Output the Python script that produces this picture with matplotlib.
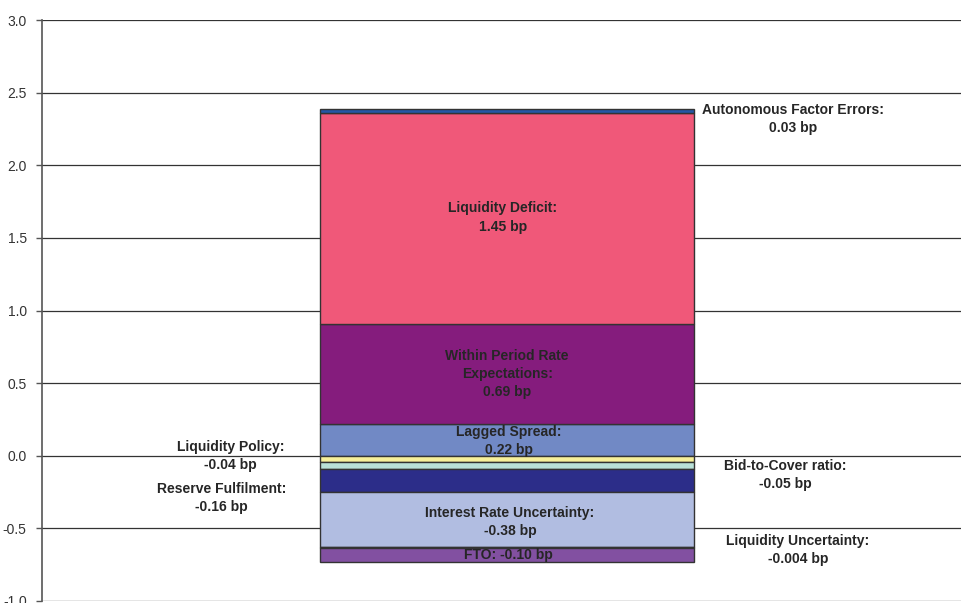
import matplotlib.pyplot as plt
import numpy as np

plt.rcParams["font.family"] = ["Liberation Sans", "DejaVu Sans"]

# contributions in bp, stacked in drawing order
pos_names = ["Lagged Spread", "Within Period Rate Expectations", "Liquidity Deficit",
             "Autonomous Factor Errors"]
pos_values = [0.22, 0.69, 1.45, 0.03]
pos_colors = ["#7189c5", "#851c7d", "#f05879", "#2457a6"]

neg_names = ["Liquidity Policy", "Bid-to-Cover ratio", "Reserve Fulfilment",
             "Interest Rate Uncertainty", "Liquidity Uncertainty", "FTO"]
neg_values = [-0.04, -0.05, -0.16, -0.38, -0.004, -0.10]
neg_colors = ["#f7f09a", "#b9e1d8", "#2c2d89", "#b1bde1", "#2a2a2a", "#8250a1"]

# label text, x position (axis fraction), y position (data)
labels = [
    ("Autonomous Factor Errors:\n0.03 bp", 0.809, 2.32),
    ("Liquidity Deficit:\n1.45 bp", 0.496, 1.64),
    ("Within Period Rate\nExpectations:\n0.69 bp", 0.501, 0.565),
    ("Lagged Spread:\n0.22 bp", 0.503, 0.10),
    ("Liquidity Policy:\n-0.04 bp", 0.203, 0.0),
    ("Reserve Fulfilment:\n-0.16 bp", 0.193, -0.29),
    ("Bid-to-Cover ratio:\n-0.05 bp", 0.800, -0.13),
    ("Interest Rate Uncertainty:\n-0.38 bp", 0.504, -0.455),
    ("Liquidity Uncertainty:\n-0.004 bp", 0.814, -0.65),
    ("FTO: -0.10 bp", 0.502, -0.68),
]

fig = plt.figure(figsize=(9.61, 6.03), dpi=100)
ax = fig.add_axes([42 / 961, 2 / 603, 1 - 42 / 961 + 0.01, (601 - 20) / 603])

bar_x = 0.5008
bar_w = 0.4027

bottom = 0.0
for v, c in zip(pos_values, pos_colors):
    ax.bar(bar_x, v, bottom=bottom, width=bar_w, color=c, edgecolor="#333333",
           linewidth=1.0, zorder=3)
    bottom += v

bottom = 0.0
for v, c in zip(neg_values, neg_colors):
    ax.bar(bar_x, v, bottom=bottom, width=bar_w, color=c, edgecolor="#333333",
           linewidth=1.0, zorder=3)
    bottom += v

for txt, x, y in labels:
    ax.text(x, y, txt, ha="center", va="center", fontsize=10, fontweight="bold",
            color="#262626", linespacing=1.38, zorder=4)

ax.set_xlim(0, 1)
ax.set_ylim(-1.0, 3.0)
ax.set_yticks(np.arange(-1.0, 3.01, 0.5))
ax.set_yticklabels(["{:.1f}".format(t) for t in np.arange(-1.0, 3.01, 0.5)])
ax.set_xticks([])
ax.grid(axis="y", color="#333333", linewidth=0.9, zorder=0)
ax.tick_params(axis="y", direction="out", length=4, width=1, color="#555555",
               labelsize=10, labelcolor="#333333", pad=7)
for s in ["top", "right", "bottom"]:
    ax.spines[s].set_visible(False)
ax.spines["left"].set_color("#555555")
ax.spines["left"].set_linewidth(1.2)

plt.savefig("out.png", dpi=100)
